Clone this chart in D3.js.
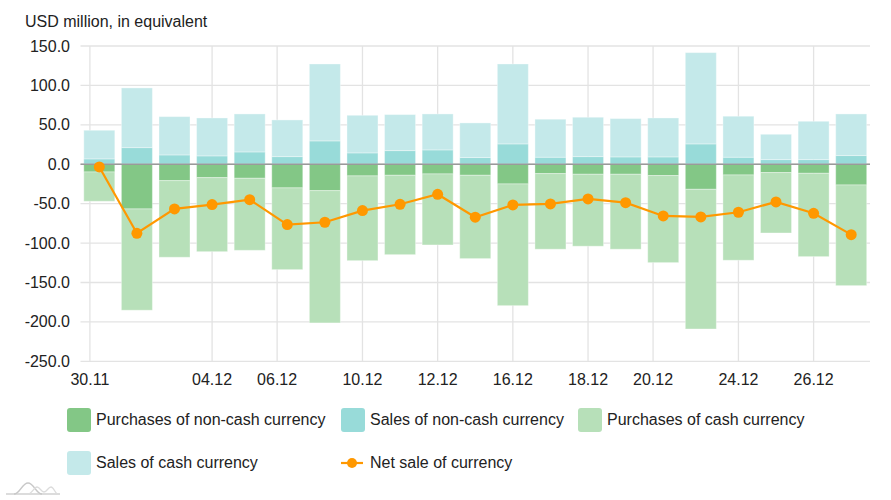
<!DOCTYPE html>
<html>
<head>
<meta charset="utf-8">
<script src="https://cdn.jsdelivr.net/npm/d3@7"></script>
<style>
  html, body { margin: 0; padding: 0; background: #fff; }
  svg { display: block; font-family: "Liberation Sans", Arial, sans-serif; }
</style>
</head>
<body>
<svg id="chart" width="891" height="500"></svg>
<script>
// ---- data ----
const categories = ["30.11","01.12","02.12","05.12","06.12","07.12","08.12","09.12","12.12","13.12","14.12",
                    "15.12","16.12","19.12","20.12","21.12","22.12","23.12","26.12","27.12","28.12"];
const salesNonCash     = [6.8, 21.1, 11.8, 10.6, 15.6, 9.7, 29.6, 14.4, 17.3, 18.2, 8.5, 25.8, 8.9, 9.7, 9.3, 9.3, 25.8, 8.9, 5.9, 5.9, 11.0];
const salesCash        = [36.3, 75.7, 48.6, 48.1, 48.2, 46.5, 97.6, 47.7, 45.7, 45.6, 43.9, 101.4, 48.2, 49.9, 48.6, 49.4, 115.8, 52.0, 32.1, 48.6, 52.8];
const purchasesNonCash = [-9.8, -56.7, -20.8, -17.0, -17.8, -30.0, -33.5, -14.8, -14.0, -12.3, -14.0, -25.0, -11.9, -12.7, -12.7, -14.4, -31.8, -13.6, -10.6, -11.5, -26.3];
const purchasesCash    = [-37.2, -128.5, -97.2, -93.9, -91.4, -103.7, -167.8, -107.5, -100.7, -90.1, -105.7, -154.4, -95.9, -91.3, -95.1, -110.4, -177.2, -108.2, -76.6, -105.7, -127.7];
const netSale          = [-3.4, -87.6, -56.7, -51.2, -44.9, -76.6, -73.6, -58.8, -50.8, -38.1, -67.2, -51.6, -50.4, -44.0, -48.7, -65.6, -66.8, -60.9, -47.8, -62.2, -89.3];

const xTickLabels = ["30.11","04.12","06.12","10.12","12.12","16.12","18.12","20.12","24.12","26.12"];
const xTickAt     = [-0.25, 3, 4.73, 7, 9, 11, 13, 14.73, 17, 19];   // position in category units
const yTicks      = [150, 100, 50, 0, -50, -100, -150, -200, -250];

const seriesNames = ["Purchases of non-cash currency","Sales of non-cash currency","Purchases of cash currency","Sales of cash currency","Net sale of currency"];
const colors = {
  purNonCash: "#83c786",
  salNonCash: "#98dbd9",
  purCash:    "#b7e0b9",
  salCash:    "#c4e9ea",
  net:        "#ff9800"
};

// ---- layout ----
const svg = d3.select("#chart");
const plot = {left: 80.5, right: 870, top: 46, bottom: 361.3};

const x = d3.scaleLinear().domain([-0.5, categories.length - 0.5]).range([plot.left, plot.right]);
const y = d3.scaleLinear().domain([-250, 150]).range([plot.bottom, plot.top]);
const step = x(1) - x(0);
const barW = 31;

// title
svg.append("text").attr("x", 25).attr("y", 27).attr("font-size", 16).attr("fill", "#222")
  .text("USD million, in equivalent");

// horizontal grid
svg.append("g").selectAll("line").data(yTicks).join("line")
  .attr("x1", plot.left).attr("x2", plot.right)
  .attr("y1", d => y(d)).attr("y2", d => y(d))
  .attr("stroke", "#e3e3e3").attr("stroke-width", 1.3);

// vertical grid
svg.append("g").selectAll("line").data(xTickAt).join("line")
  .attr("x1", d => x(d)).attr("x2", d => x(d))
  .attr("y1", plot.top).attr("y2", plot.bottom)
  .attr("stroke", "#e3e3e3").attr("stroke-width", 1.3);

// y axis labels
svg.append("g").selectAll("text").data(yTicks).join("text")
  .attr("x", 70).attr("y", d => y(d)).attr("dy", "0.35em")
  .attr("text-anchor", "end").attr("font-size", 16).attr("fill", "#222")
  .text(d => d.toFixed(1));

// x axis labels
svg.append("g").selectAll("text").data(xTickLabels).join("text")
  .attr("x", (d, i) => x(xTickAt[i])).attr("y", 385)
  .attr("text-anchor", "middle").attr("font-size", 16).attr("fill", "#222")
  .text(d => d);

// stacked bars
const idx = d3.range(categories.length);
function drawStack(vals, base, color) {
  svg.append("g").selectAll("rect").data(idx).join("rect")
    .attr("x", i => x(i) - barW / 2)
    .attr("width", barW)
    .attr("y", i => y(Math.max(base[i], base[i] + vals[i])))
    .attr("height", i => Math.abs(y(base[i]) - y(base[i] + vals[i])))
    .attr("fill", color)
    .attr("stroke", "#ffffff").attr("stroke-opacity", 0.35).attr("stroke-width", 1);
}
const zeros = idx.map(() => 0);
drawStack(salesNonCash, zeros, colors.salNonCash);
drawStack(salesCash, salesNonCash, colors.salCash);
drawStack(purchasesNonCash, zeros, colors.purNonCash);
drawStack(purchasesCash, purchasesNonCash, colors.purCash);

// zero line
svg.append("line").attr("x1", plot.left).attr("x2", plot.right)
  .attr("y1", y(0)).attr("y2", y(0)).attr("stroke", "#9a9a9a").attr("stroke-width", 1.3);

// net line
const line = d3.line().x((d, i) => x(i)).y(d => y(d));
svg.append("path").datum(netSale).attr("d", line)
  .attr("fill", "none").attr("stroke", colors.net).attr("stroke-width", 2.2);
svg.append("g").selectAll("circle").data(netSale).join("circle")
  .attr("cx", (d, i) => x(i)).attr("cy", d => y(d)).attr("r", 5.5)
  .attr("fill", colors.net);

// legend
const legendItems = [
  {name: seriesNames[0], color: colors.purNonCash, type: "rect", lx: 67, ly: 420},
  {name: seriesNames[1], color: colors.salNonCash, type: "rect", lx: 341, ly: 420},
  {name: seriesNames[2], color: colors.purCash,    type: "rect", lx: 578, ly: 420},
  {name: seriesNames[3], color: colors.salCash,    type: "rect", lx: 67, ly: 463},
  {name: seriesNames[4], color: colors.net,        type: "line", lx: 341, ly: 463}
];
const lg = svg.append("g").selectAll("g").data(legendItems).join("g")
  .attr("transform", d => `translate(${d.lx},${d.ly})`);
lg.filter(d => d.type === "rect").append("rect")
  .attr("x", 0).attr("y", -12).attr("width", 24).attr("height", 24).attr("rx", 3)
  .attr("fill", d => d.color);
lg.filter(d => d.type === "line").append("line")
  .attr("x1", 0).attr("x2", 22).attr("y1", 0).attr("y2", 0)
  .attr("stroke", d => d.color).attr("stroke-width", 2.2);
lg.filter(d => d.type === "line").append("circle")
  .attr("cx", 11).attr("cy", 0).attr("r", 5).attr("fill", d => d.color);
lg.append("text").attr("x", 29).attr("y", 0).attr("dy", "0.3em")
  .attr("font-size", 16).attr("fill", "#222").text(d => d.name);

// small logo mark (bottom-left)
const logo = svg.append("g").attr("transform", "translate(6,482)");
logo.append("path").attr("d", "M0,12 L54,12").attr("stroke", "#d0d0d0").attr("stroke-width", 1.5);
logo.append("path").attr("d", "M8,12 C14,12 16,1 22,1 C28,1 30,12 36,12")
  .attr("fill", "none").attr("stroke", "#c8c8c8").attr("stroke-width", 1.3);
logo.append("path").attr("d", "M22,12 C26,12 28,5 31,5 C34,5 35,10 38,10 C41,10 42,5 45,5 C48,5 49,12 52,12")
  .attr("fill", "none").attr("stroke", "#dcdcdc").attr("stroke-width", 1.3);
</script>
</body>
</html>
